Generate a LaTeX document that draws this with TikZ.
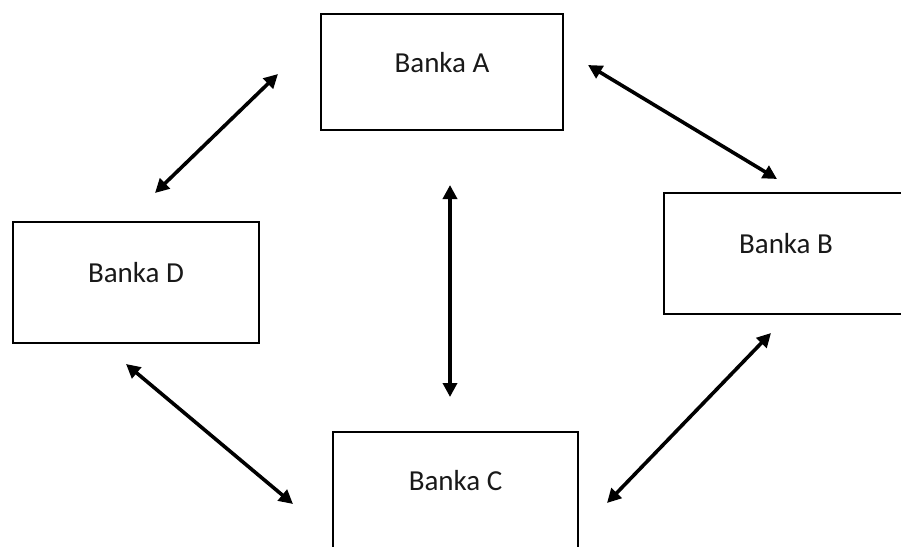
\documentclass[tikz,border=0pt]{standalone}
\usepackage{fontspec}
\setmainfont{Carlito}
\usetikzlibrary{arrows.meta}
\begin{document}
\begin{tikzpicture}[x=1pt,y=-1pt,
  bank/.style={draw=black,line width=2.6pt,rectangle,inner sep=0pt,
    font=\fontsize{29}{34}\selectfont,text depth=20pt,text=black!90},
  link/.style={line width=3.6pt,{Triangle[length=14pt,width=14pt]}-{Triangle[length=14pt,width=14pt]}}]
\useasboundingbox (0,0) rectangle (901,546);
\clip (0,0) rectangle (901,546);
\fill[white] (0,0) rectangle (901,546);
\node[bank,minimum width=242pt,minimum height=116pt] (A) at (442,72) {Banka A};
\node[bank,minimum width=244pt,minimum height=121pt] (B) at (786,253.5) {Banka B};
\node[bank,minimum width=245pt,minimum height=116pt] (C) at (455.5,490) {Banka C};
\node[bank,minimum width=246pt,minimum height=121pt] (D) at (136,282.5) {Banka D};
\coordinate (ad1) at (278,74);
\coordinate (ad2) at (155,193);
\coordinate (ab1) at (588,65);
\coordinate (ab2) at (777,179);
\coordinate (ac1) at (450,185);
\coordinate (ac2) at (450,397);
\coordinate (dc1) at (126,364);
\coordinate (dc2) at (293,504);
\coordinate (bc1) at (771,333);
\coordinate (bc2) at (607,503);
\draw[link] (ad1) -- (ad2);
\draw[link] (ab1) -- (ab2);
\draw[link] (ac1) -- (ac2);
\draw[link] (dc1) -- (dc2);
\draw[link] (bc1) -- (bc2);
\end{tikzpicture}
\end{document}
